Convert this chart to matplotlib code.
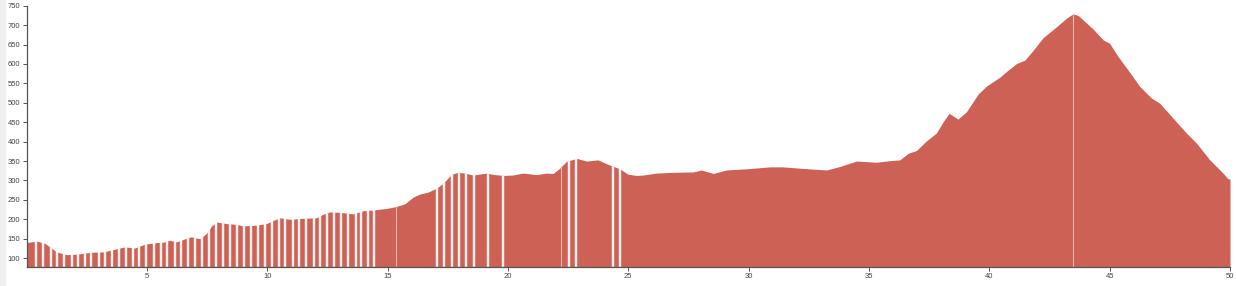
import matplotlib
matplotlib.use('Agg')
import matplotlib.pyplot as plt
from matplotlib.patches import Rectangle

# elevation profile: distance (km) and height (m)
distance = [0.0, 0.42, 0.76, 0.97, 1.25, 1.66, 2.08, 2.63, 3.18, 3.6, 4.08, 4.5, 4.91,
            5.4, 5.68, 5.95, 6.23, 6.5, 6.85, 7.2, 7.48, 7.69, 7.9, 8.31, 8.72, 9.0,
            9.56, 9.97, 10.25, 10.52, 10.94, 11.35, 12.05, 12.32, 12.6, 13.02, 13.57,
            13.98, 14.4, 14.96, 15.37, 15.72, 16.06, 16.34, 16.68, 17.03, 17.31, 17.66,
            17.93, 18.21, 18.55, 19.11, 19.46, 19.87, 20.2, 20.63, 21.19, 21.6, 21.88,
            22.16, 22.43, 22.85, 23.27, 23.75, 24.1, 24.65, 24.99, 25.34, 25.62, 26.17,
            26.86, 27.7, 28.04, 28.53, 29.08, 29.91, 30.88, 31.43, 32.26, 33.24, 33.79,
            34.48, 35.31, 35.87, 36.28, 36.63, 36.97, 37.39, 37.8, 38.08, 38.33, 38.7,
            39.05, 39.53, 39.88, 40.44, 40.78, 41.13, 41.48, 41.82, 42.24, 42.72, 43.21,
            43.48, 43.69, 44.31, 44.73, 45.0, 45.35, 45.84, 46.25, 46.74, 47.08, 47.64,
            48.19, 48.61, 49.16, 49.71, 49.92, 50.0]
elevation = [140, 144, 138, 129, 116, 109, 110, 115, 116, 122, 129, 126, 136,
             140, 141, 146, 142, 148, 155, 150, 164, 183, 193, 189, 187, 183,
             185, 189, 197, 204, 200, 202, 204, 213, 219, 218, 214,
             222, 224, 228, 233, 240, 257, 265, 270, 280, 293, 316,
             321, 319, 314, 319, 315, 313, 314, 319, 315, 319, 318,
             332, 349, 357, 350, 353, 343, 330, 316, 313, 314, 319,
             321, 322, 327, 318, 327, 330, 335, 335, 331, 327, 336,
             350, 347, 351, 353, 370, 377, 402, 422, 451, 473, 458,
             477, 522, 543, 566, 584, 601, 610, 635, 668, 692, 718,
             729, 725, 690, 662, 653, 619, 578, 542, 512, 499, 460,
             422, 396, 353, 319, 304, 304]

# gaps between segments (white stripes)
gaps = [0.40, 0.69, 1.00, 1.27, 1.55, 1.87, 2.15, 2.42, 2.70, 3.00, 3.28, 3.56,
        3.86, 4.14, 4.42, 4.69, 4.98, 5.29, 5.57, 5.84, 6.15, 6.42, 6.70, 7.02,
        7.30, 7.57, 7.88, 8.16, 8.46, 8.74, 9.03, 9.33, 9.61, 9.89, 10.19, 10.48,
        10.76, 11.06, 11.34, 11.63, 11.94, 12.21, 12.49, 12.79, 13.07, 13.35, 13.67,
        13.90, 14.18, 14.42,
        17.07, 17.35, 17.66, 17.97, 18.28, 18.58, 19.18, 19.80,
        22.53, 22.85, 24.35, 24.65]
thin_gaps = [15.34, 22.19, 43.47]

x_ticks = [5, 10, 15, 20, 25, 30, 35, 40, 45, 50]
y_ticks = list(range(100, 751, 50))

BASE = 78
fig = plt.figure(figsize=(12.36, 2.86), dpi=100)
ax = fig.add_axes([26.5 / 1236, 1 - 266.7 / 286, (1230 - 26.5) / 1236, (266.7 - 5.7) / 286])

# light border strip on the left of the screenshot
fig.patches.append(Rectangle((0, 0), 6 / 1236, 1, transform=fig.transFigure,
                             facecolor='#efefef', edgecolor='none', zorder=0))

area = ax.fill_between(distance, elevation, BASE, color='#cd6155', lw=0, zorder=2)
clip = area.get_paths()[0]

stripes = ax.vlines(gaps, BASE, 760, colors='#fdf1ef', lw=1.75, zorder=3)
stripes.set_clip_path(clip, ax.transData)
thin = ax.vlines(thin_gaps, BASE, 760, colors='#eeb2aa', lw=0.8, zorder=3)
thin.set_clip_path(clip, ax.transData)

ax.set_xlim(0, 50)
ax.set_ylim(BASE, 750)
ax.set_xticks(x_ticks)
ax.set_yticks(y_ticks)

for s in ['top', 'right']:
    ax.spines[s].set_visible(False)
for s in ['left', 'bottom']:
    ax.spines[s].set_color('#555555')
    ax.spines[s].set_linewidth(0.9)

ax.tick_params(axis='both', colors='#555555', labelcolor='#444444', labelsize=5.5,
               width=0.7, length=3, pad=1.5)
for lab in ax.get_xticklabels() + ax.get_yticklabels():
    lab.set_family('Liberation Sans')

fig.savefig('out.png', dpi=100)
